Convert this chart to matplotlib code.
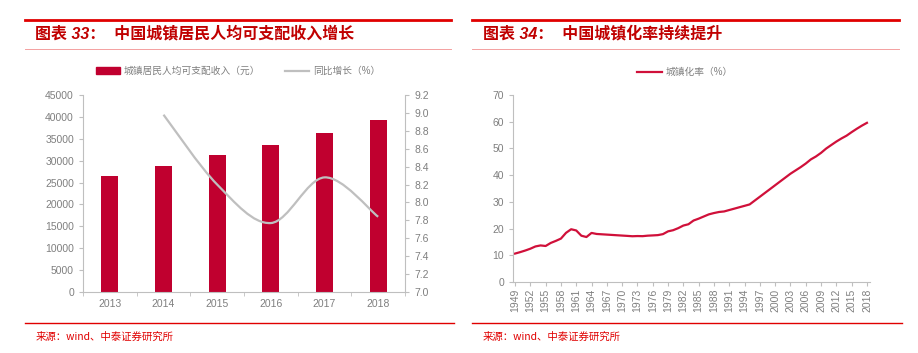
import numpy as np
import matplotlib
matplotlib.use('Agg')
import matplotlib.pyplot as plt
from matplotlib.lines import Line2D
from matplotlib.patches import Patch, PathPatch
from matplotlib.path import Path

plt.rcParams['font.family'] = ['Liberation Sans', 'Noto Sans CJK SC', 'DejaVu Sans']

# ---- data ----
income_years = ['2013', '2014', '2015', '2016', '2017', '2018']
income = [26467, 28844, 31195, 33616, 36396, 39251]
growth_years = ['2014', '2015', '2016', '2017', '2018']
growth = [8.98, 8.2, 7.77, 8.28, 7.84]

urban_years = list(range(1949, 2019))
urban_rate = [10.64, 11.18, 11.78, 12.46, 13.31, 13.69, 13.48, 14.62, 15.39, 16.25,
              18.41, 19.75, 19.29, 17.33, 16.84, 18.37, 17.98, 17.86, 17.74, 17.62,
              17.50, 17.38, 17.26, 17.13, 17.20, 17.16, 17.34, 17.44, 17.55, 17.92,
              18.96, 19.39, 20.16, 21.13, 21.62, 23.01, 23.71, 24.52, 25.32, 25.81,
              26.21, 26.41, 26.94, 27.46, 27.99, 28.51, 29.04, 30.48, 31.91, 33.35,
              34.78, 36.22, 37.66, 39.09, 40.53, 41.76, 42.99, 44.34, 45.89, 46.99,
              48.34, 49.95, 51.27, 52.57, 53.73, 54.77, 56.10, 57.35, 58.52, 59.58]

RED = '#C0002F'
TITLE_RED = '#C00000'
GREY = '#7F7F7F'
SPINE = '#BFBFBF'


def smooth_path(xs, ys):
    # cubic bezier through the points (catmull-rom style control points)
    verts = [(xs[0], ys[0])]
    codes = [Path.MOVETO]
    n = len(xs)
    for i in range(n - 1):
        x0, y0 = xs[max(i - 1, 0)], ys[max(i - 1, 0)]
        x1, y1 = xs[i], ys[i]
        x2, y2 = xs[i + 1], ys[i + 1]
        x3, y3 = xs[min(i + 2, n - 1)], ys[min(i + 2, n - 1)]
        c1 = (x1 + (x2 - x0) / 6, y1 + (y2 - y0) / 6)
        c2 = (x2 - (x3 - x1) / 6, y2 - (y3 - y1) / 6)
        verts += [c1, c2, (x2, y2)]
        codes += [Path.CURVE4] * 3
    return Path(verts, codes)


def style_axis(ax):
    for s in ['top', 'right']:
        ax.spines[s].set_visible(False)
    for s in ['left', 'bottom']:
        ax.spines[s].set_color(SPINE)
        ax.spines[s].set_linewidth(0.8)
    ax.tick_params(colors=SPINE, labelcolor=GREY, labelsize=7.5, length=3, width=0.8)


fig = plt.figure(figsize=(9.18, 3.53), dpi=100)

# ---- frame lines and titles ----
def header_footer(x0, x1, xt, title):
    fig.add_artist(Line2D([x0, x1], [0.943, 0.943], color='#E00000', lw=2))
    fig.add_artist(Line2D([x0, x1], [0.861, 0.861], color='#F4A0A0', lw=0.7))
    fig.add_artist(Line2D([x0, x1 + 0.003], [0.085, 0.085], color='#E00000', lw=1))
    fig.text(xt, 0.905, title, color=TITLE_RED, fontsize=11.5, fontweight='bold',
             style='italic', va='center', ha='left')
    fig.text(x0 + 0.012, 0.045, '来源：wind、中泰证券研究所', color='#E00000',
             fontsize=7.5, va='center', ha='left',
             family=['Noto Sans CJK SC', 'DejaVu Sans'])

header_footer(25 / 918, 451 / 918, 35 / 918, '图表 33：  中国城镇居民人均可支配收入增长')
header_footer(472 / 918, 899 / 918, 483 / 918, '图表 34：  中国城镇化率持续提升')

# ---- left chart ----
ax1 = fig.add_axes([83 / 918, 1 - 292 / 353, 322 / 918, 197 / 353])
x = np.arange(len(income_years))
ax1.bar(x, income, width=0.32, color=RED, zorder=2)
ax1.set_xlim(-0.5, len(income_years) - 0.5)
ax1.set_ylim(0, 45000)
ax1.set_yticks(np.arange(0, 45001, 5000))
ax1.set_xticks(x)
ax1.set_xticklabels(income_years)
ax1.set_xticks(np.arange(-0.5, len(income_years), 1), minor=True)
style_axis(ax1)
ax1.tick_params(axis='x', which='major', length=0, pad=5)
ax1.tick_params(axis='x', which='minor', length=3, color=SPINE)

ax2 = ax1.twinx()
ax2.set_ylim(7.0, 9.2)
ax2.set_yticks(np.arange(7.0, 9.21, 0.2))
ax2.set_yticklabels(['%.1f' % v for v in np.arange(7.0, 9.21, 0.2)])
for s in ['top', 'left', 'bottom']:
    ax2.spines[s].set_visible(False)
ax2.spines['right'].set_color(SPINE)
ax2.spines['right'].set_linewidth(0.8)
ax2.tick_params(colors=SPINE, labelcolor=GREY, labelsize=7.5, length=3, width=0.8)
gx = [income_years.index(y) for y in growth_years]
ax2.add_patch(PathPatch(smooth_path(gx, growth), facecolor='none',
                        edgecolor='#BFBFBF', lw=1.6, zorder=3))

fig.legend(handles=[Patch(color=RED, label='城镇居民人均可支配收入（元）'),
                    Line2D([], [], color='#BFBFBF', lw=1.6, label='同比增长（%）')],
           loc='center', bbox_to_anchor=(238 / 918, 1 - 71 / 353), ncol=2,
           frameon=False, fontsize=7, labelcolor=GREY, handlelength=2.5,
           handleheight=0.6, columnspacing=2.5, handletextpad=0.4)

# ---- right chart ----
ax3 = fig.add_axes([513 / 918, 1 - 282 / 353, 357 / 918, 187 / 353])
ax3.plot(urban_years, urban_rate, color='#D0103A', lw=1.6)
ax3.set_ylim(0, 70)
ax3.set_yticks(np.arange(0, 71, 10))
ax3.set_xlim(1948.6, 2018.6)
ax3.set_xticks(np.arange(1949, 2019, 3))
ax3.set_xticklabels([str(v) for v in range(1949, 2019, 3)], rotation=90)
style_axis(ax3)
ax3.tick_params(axis='x', pad=2)

fig.legend(handles=[Line2D([], [], color='#D0103A', lw=1.6, label='城镇化率（%）')],
           loc='center', bbox_to_anchor=(685 / 918, 1 - 72 / 353),
           frameon=False, fontsize=7, labelcolor=GREY, handlelength=2.5,
           handletextpad=0.4)

fig.savefig('out.png', dpi=100)
